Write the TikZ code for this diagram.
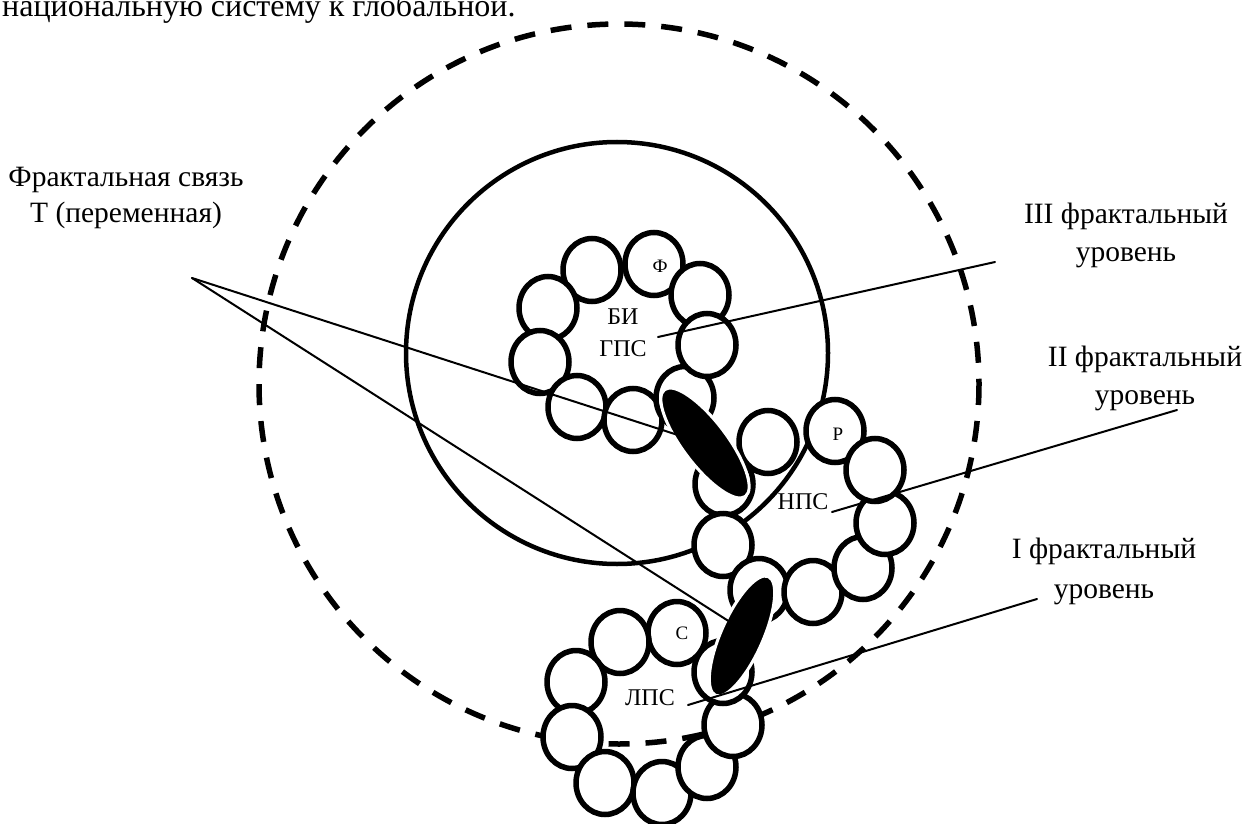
\documentclass[tikz,border=0pt]{standalone}
\usepackage{fontspec}
\setmainfont{Liberation Serif}
\usetikzlibrary{shapes.geometric}
\begin{document}
\begin{tikzpicture}[x=1pt,y=-1pt,
  sc/.style={ellipse, draw=black, fill=white, line width=5.5pt, minimum width=58pt, minimum height=63pt, inner sep=0pt},
  link/.style={ellipse, fill=black, draw=white, line width=3pt, inner sep=0pt},
  thin/.style={line width=2pt, line cap=round},
  dashring/.style={line width=5.5pt, dash pattern=on 21pt off 16pt},
  ring/.style={line width=4.5pt},
  lbl/.style={align=center, inner sep=0pt, font=\fontsize{29.5}{37}\selectfont},
  big/.style={inner sep=0pt, font=\fontsize{24}{32}\selectfont, align=center},
  small/.style={inner sep=0pt, font=\fontsize{19}{22}\selectfont}]
\useasboundingbox (0,0) rectangle (1245,824);
% top text (cut off)
\node[anchor=base west, inner sep=0pt, font=\fontsize{32}{38}\selectfont] (toptext) at (2,16.5) {национальную систему к глобальной.};
% outer rings
\draw[dashring] (619,384) circle[radius=360];
\draw[ring] (617,353) circle[radius=211];
% top cluster
\foreach \n/\p in {t2/{(592,270)},t3/{(548,308)},t4/{(540,362)},t5/{(577,407)},t6/{(633,420)},t1/{(654,264)},t9/{(700,295)},t7/{(685,398)},t8/{(707,345)}}
  \node[sc] (\n) at \p {};
% middle cluster
\foreach \n/\p in {m1/{(835,431)},m2/{(768,442)},m3/{(724,484)},m4/{(723,545)},m5/{(759,590)},m6/{(813,592)},m7/{(863,568)},m8/{(885,523)},m9/{(875,470)}}
  \node[sc] (\n) at \p {};
% bottom cluster
\foreach \n/\p in {b1/{(677,633)},b2/{(620,642)},b3/{(576,682)},b4/{(572,737)},b5/{(605,783)},b6/{(662,793)},b7/{(707,767)},b8/{(733,725)},b9/{(723,672)}}
  \node[sc] (\n) at \p {};
% links
\node[link, minimum width=134pt, minimum height=44pt, rotate=-52.8] (linkA) at (705,443) {};
\node[link, minimum width=130pt, minimum height=42pt, rotate=66] (linkB) at (742,636) {};
% cluster labels
\node[small] (lf) at (660,266) {Ф};
\node[big] (lbi) at (623,333) {БИ\\ГПС};
\node[small] (lr) at (838,434) {Р};
\node[big] (lnps) at (803,502) {НПС};
\node[small] (lc) at (682,633) {С};
\node[big] (llps) at (650,698) {ЛПС};
% side labels
\node[lbl] (lt) at (126,198) {Фрактальная связь\\[-1pt]Т (переменная)};
\node[lbl] (l3) at (1126,235) {III фрактальный\\[1pt]уровень};
\node[lbl] (l2) at (1145,378) {II фрактальный\\[1pt]уровень};
\node[lbl] (l1) at (1104,571) {I фрактальный\\[3pt]уровень};
% connector points
\coordinate (fx) at (192,278);
\coordinate (ea) at (684,437);
\coordinate (eb) at (730,622);
\coordinate (p3a) at (658,337);
\coordinate (p3b) at (995,262);
\coordinate (p2a) at (832,512);
\coordinate (p2b) at (1177,410);
\coordinate (p1a) at (688,705);
\coordinate (p1b) at (1037,599);
\draw[thin] (fx) -- (ea);
\draw[thin] (fx) -- (eb);
\draw[thin] (p3a) -- (p3b);
\draw[thin] (p2a) -- (p2b);
\draw[thin] (p1a) -- (p1b);
\end{tikzpicture}
\end{document}
